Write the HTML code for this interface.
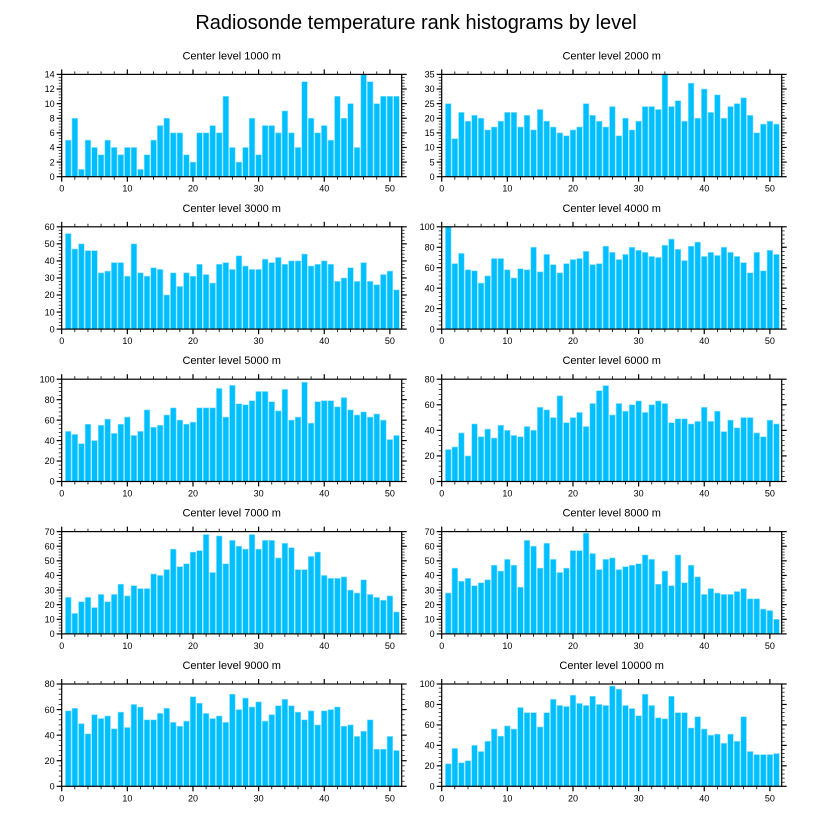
<!DOCTYPE html>
<html><head><meta charset="utf-8">
<style>
html,body{margin:0;padding:0;background:#fff;}
svg{display:block;font-family:"Liberation Sans",sans-serif;}
</style></head>
<body>
<svg id="chart" width="822" height="824" viewBox="0 0 822 824" xmlns="http://www.w3.org/2000/svg">
<text x="416" y="29" text-anchor="middle" font-size="20" fill="#000">Radiosonde temperature rank histograms by level</text>
</svg>
<script>
const panelTitles = ["Center level 1000 m","Center level 2000 m","Center level 3000 m","Center level 4000 m","Center level 5000 m","Center level 6000 m","Center level 7000 m","Center level 8000 m","Center level 9000 m","Center level 10000 m"];
const yMaxes = [14,35,60,100,100,80,70,70,80,100];
const yMajorSteps = [2,5,10,20,20,20,10,10,20,20];
const xTickLabels = [0,10,20,30,40,50];
const v1000 = [5,8,1,5,4,3,5,4,3,4,4,1,3,5,7,8,6,6,3,2,6,6,7,6,11,4,2,4,8,3,7,7,6,9,6,4,13,8,6,7,5,11,8,10,4,14,13,10,11,11,11];
const v2000 = [25,13,22,19,21,20,16,17,19,22,22,17,21,16,23,19,17,15,14,16,17,25,21,19,17,24,14,20,16,19,24,24,23,35,24,26,19,32,20,30,22,28,20,24,25,27,21,15,18,19,18];
const v3000 = [56,47,50,46,46,33,34,39,39,31,50,33,31,36,35,20,33,25,33,31,38,32,27,38,39,35,43,37,35,35,41,39,42,38,40,40,44,37,38,40,38,28,30,36,28,39,28,26,32,34,23];
const v4000 = [100,64,74,58,57,45,52,69,69,58,50,59,58,80,56,73,63,55,64,68,69,76,63,64,81,75,68,73,80,77,75,71,70,82,88,78,67,81,85,71,75,72,80,75,71,65,55,75,57,77,73];
const v5000 = [49,46,37,56,40,55,61,47,56,63,45,49,70,53,55,65,72,60,56,58,72,72,72,91,63,94,76,75,79,88,88,78,69,90,60,63,97,57,78,79,79,73,82,70,65,68,63,66,60,41,45];
const v6000 = [25,27,38,20,45,35,41,34,44,40,36,35,43,40,58,56,50,67,46,50,54,43,61,71,75,52,61,55,60,63,54,60,63,61,46,49,49,45,47,58,47,55,39,48,42,50,50,38,35,48,45];
const v7000 = [25,14,22,25,18,27,22,27,34,26,33,31,31,41,40,44,58,46,48,56,57,68,42,67,48,64,60,58,68,58,64,64,52,62,59,44,44,53,56,40,38,38,39,30,28,37,27,25,23,26,15];
const v8000 = [28,45,36,38,33,35,37,47,43,51,47,32,64,60,45,62,51,42,45,57,57,69,55,44,51,52,44,46,47,48,54,51,34,43,33,54,35,47,39,27,31,28,27,27,29,31,24,24,17,16,10];
const v9000 = [59,61,49,41,56,53,55,45,58,46,64,62,52,52,57,61,50,47,51,70,65,57,53,55,50,72,60,69,62,66,51,56,63,68,63,58,52,59,48,59,60,62,47,48,39,43,52,29,29,39,28];
const v10000 = [22,37,23,25,40,34,44,56,49,59,56,77,72,72,58,72,85,79,78,89,81,79,88,80,79,98,95,79,76,69,90,79,67,66,88,72,72,57,68,56,50,51,42,51,44,68,34,31,31,31,32];
const allSeries = [v1000,v2000,v3000,v4000,v5000,v6000,v7000,v8000,v9000,v10000];

const NS = "http://www.w3.org/2000/svg";
const svg = document.getElementById('chart');
const XMAX = 51.8;
const PW = 340, PH = 102.3;
const lefts = [61.7, 441.7];
const tops = [74.4, 226.8, 379.2, 531.6, 684.0];

function mk(tag, attrs, parent){
  const e = document.createElementNS(NS, tag);
  for (const k in attrs) e.setAttribute(k, attrs[k]);
  parent.appendChild(e);
  return e;
}

allSeries.forEach((vals, p) => {
  const x0 = lefts[p % 2], y0 = tops[Math.floor(p / 2)];
  const ymax = yMaxes[p], step = yMajorSteps[p];
  const sx = v => x0 + v / XMAX * PW;
  const sy = v => y0 + PH - v / ymax * PH;
  const g = mk('g', {}, svg);
  
  

  const t = mk('text', {x: x0 + PW / 2, y: y0 - 15, 'text-anchor': 'middle', 'font-size': 11}, g);
  t.textContent = panelTitles[p];
  
  

  const bw = 0.86;
  vals.forEach((v, i) => {
    const xc = i + 1;
    const r = mk('rect', {x: sx(xc - bw / 2), y: sy(v), width: sx(xc + bw / 2) - sx(xc - bw / 2), height: sy(0) - sy(v), fill: '#00bfff', stroke: '#8fe0ff', 'stroke-width': 0.6}, g);
    
    
  });

  const fr = mk('rect', {x: x0, y: y0, width: PW, height: PH, fill: 'none', stroke: '#000', 'stroke-width': 1.2}, g);
  
  

  // x ticks (outward top & bottom)
  for (let v = 0; v <= 51; v += 2) {
    const major = v % 10 === 0;
    const L = major ? 5 : 3;
    const X = sx(v);
    mk('line', {x1: X, x2: X, y1: y0 + PH, y2: y0 + PH + L, stroke: '#000', 'stroke-width': major ? 1.2 : 0.8}, g);
    mk('line', {x1: X, x2: X, y1: y0, y2: y0 - L, stroke: '#000', 'stroke-width': major ? 1.2 : 0.8}, g);
  }
  xTickLabels.forEach(v => {
    const tx = mk('text', {x: sx(v), y: y0 + PH + 15, 'text-anchor': 'middle', 'font-size': 9}, g);
    tx.textContent = v;
    
    
  });

  // y ticks
  const minor = step / 5;
  for (let k = 0; k * minor <= ymax + 1e-9; k++) {
    const v = k * minor;
    const major = k % 5 === 0;
    const L = major ? 5 : 3;
    const Y = sy(v);
    mk('line', {x1: x0, x2: x0 - L, y1: Y, y2: Y, stroke: '#000', 'stroke-width': major ? 1.2 : 0.7}, g);
    mk('line', {x1: x0 + PW, x2: x0 + PW + L, y1: Y, y2: Y, stroke: '#000', 'stroke-width': major ? 1.2 : 0.7}, g);
    if (major) {
      const ty = mk('text', {x: x0 - 7, y: Y + 3.2, 'text-anchor': 'end', 'font-size': 9}, g);
      ty.textContent = Math.round(v);
      
      
    }
  }
});
</script>
</body></html>
